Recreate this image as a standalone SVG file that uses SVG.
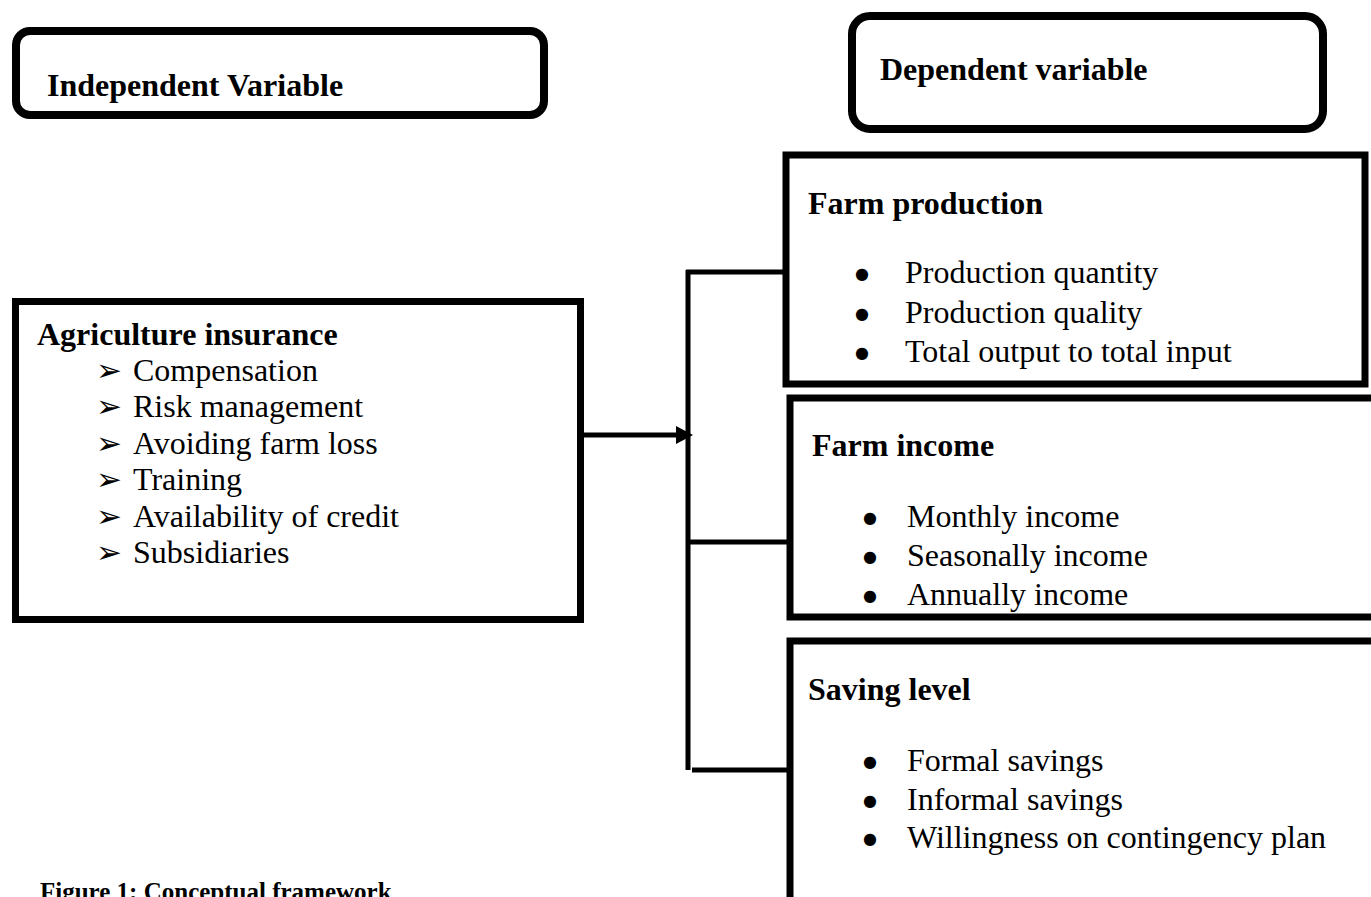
<svg xmlns="http://www.w3.org/2000/svg" width="1371" height="897" viewBox="0 0 1371 897">
<style>
.h{font-family:"Liberation Serif","Times New Roman",serif;font-weight:bold;font-size:32px;fill:#000}
.t{font-family:"Liberation Serif","Times New Roman",serif;font-size:32px;fill:#000}
.b{font-family:"DejaVu Sans",sans-serif;font-size:16px;fill:#000}
.ar{font-family:"DejaVu Sans",sans-serif;font-size:31px;fill:#000}
.cap{font-family:"Liberation Serif","Times New Roman",serif;font-weight:bold;font-size:25px;fill:#000}
.rb{fill:#fff;stroke:#000;stroke-width:8}
.box{fill:#fff;stroke:#000;stroke-width:7}
.ln{stroke:#000;stroke-width:5;fill:none}
</style>
<rect width="1371" height="897" fill="#fff"/>
<g id="independent">
<rect class="rb" x="16" y="31" width="528" height="84" rx="14"/>
<text class="h" x="47" y="96">Independent Variable</text>
</g>
<g id="dependent">
<rect class="rb" x="852" y="16" width="471" height="113" rx="18"/>
<text class="h" x="880" y="80">Dependent variable</text>
</g>
<g id="connectors">
<line class="ln" x1="584" y1="435" x2="680" y2="435"/>
<polygon points="676,426 693,435 676,444" fill="#000"/>
<line class="ln" x1="688" y1="270" x2="688" y2="770"/>
<line class="ln" x1="686" y1="272" x2="786" y2="272"/>
<line class="ln" x1="688" y1="542" x2="790" y2="542"/>
<line class="ln" x1="692" y1="770" x2="790" y2="770"/>
</g>
<g id="agriculture">
<rect class="box" x="15.5" y="301.5" width="565" height="318"/>
<text class="h" x="37" y="345">Agriculture insurance</text>
<text class="ar" x="96" y="381">➢</text><text class="t" x="133" y="381">Compensation</text>
<text class="ar" x="96" y="417">➢</text><text class="t" x="133" y="417">Risk management</text>
<text class="ar" x="96" y="454">➢</text><text class="t" x="133" y="454">Avoiding farm loss</text>
<text class="ar" x="96" y="490">➢</text><text class="t" x="133" y="490">Training</text>
<text class="ar" x="96" y="527">➢</text><text class="t" x="133" y="527">Availability of credit</text>
<text class="ar" x="96" y="563">➢</text><text class="t" x="133" y="563">Subsidiaries</text>
</g>
<g id="farm-production">
<rect class="box" x="786" y="155" width="579" height="229"/>
<text class="h" x="808" y="214">Farm production</text>
<text class="b" x="855" y="279">●</text><text class="t" x="905" y="283">Production quantity</text>
<text class="b" x="855" y="319">●</text><text class="t" x="905" y="323">Production quality</text>
<text class="b" x="855" y="358">●</text><text class="t" x="905" y="362">Total output to total input</text>
</g>
<g id="farm-income">
<rect class="box" x="790" y="398" width="600" height="219"/>
<text class="h" x="812" y="456">Farm income</text>
<text class="b" x="863" y="523">●</text><text class="t" x="907" y="527">Monthly income</text>
<text class="b" x="863" y="562">●</text><text class="t" x="907" y="566">Seasonally income</text>
<text class="b" x="863" y="601">●</text><text class="t" x="907" y="605">Annually income</text>
</g>
<g id="saving-level">
<rect class="box" x="790" y="641" width="600" height="300"/>
<text class="h" x="808" y="700">Saving level</text>
<text class="b" x="863" y="767">●</text><text class="t" x="907" y="771">Formal savings</text>
<text class="b" x="863" y="806">●</text><text class="t" x="907" y="810">Informal savings</text>
<text class="b" x="863" y="844">●</text><text class="t" x="907" y="848">Willingness on contingency plan</text>
</g>
<g id="caption">
<text class="cap" x="40" y="900">Figure 1: Conceptual framework</text>
</g>
</svg>
